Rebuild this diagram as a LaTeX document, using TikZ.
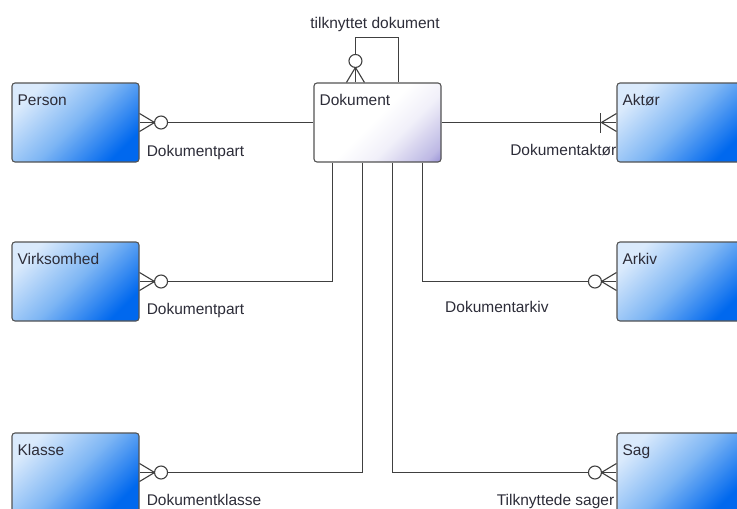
\documentclass[tikz,border=0pt]{standalone}
\usepackage{fontspec}
\setmainfont{Liberation Sans}
\usetikzlibrary{shapes,arrows,calc,positioning,backgrounds}
\definecolor{entlight}{RGB}{218,234,252}
\definecolor{entmid}{RGB}{126,182,244}
\definecolor{entdark}{RGB}{0,104,238}
\definecolor{dokpurple}{RGB}{110,100,196}
\definecolor{linegray}{RGB}{64,64,64}
\definecolor{txtgray}{RGB}{44,44,56}
\pgfdeclareverticalshading{dokshade}{100bp}{color(0bp)=(dokpurple);
  color(8bp)=(dokpurple); color(20bp)=(white!55!dokpurple);
  color(38bp)=(white!90!dokpurple); color(52bp)=(white); color(100bp)=(white)}
\begin{document}
\begin{tikzpicture}[x=1pt, y=-1pt,
    font=\fontsize{15.5}{18}\selectfont, text=txtgray,
    entity/.style={draw=linegray!90, line width=1.1pt, rounded corners=3pt,
      minimum width=127pt, minimum height=79pt, inner sep=0pt,
      top color=entlight, bottom color=entdark, middle color=entmid, shading angle=45,
      label={[anchor=base west, inner sep=0pt, xshift=6pt, yshift=-23pt]north west:#1}},
    dokbox/.style={entity=#1, shading=dokshade, shading angle=45},
    rel/.style={draw=linegray, line width=1.1pt},
    rellabel/.style={inner sep=0pt},
    zeromany/.pic={
      \draw[rel] (0,-9) -- (15,0) -- (0,9);
      \draw[rel, fill=white] (21.5,0) circle[radius=6.5pt];
    },
    onemany/.pic={
      \draw[rel] (0,-9) -- (15,0) -- (0,9);
      \draw[rel] (16,-10) -- (16,10);
    }]
  \useasboundingbox (0,0) rectangle (737,509);
  \clip (0,0) rectangle (737,509);

  \node[dokbox=Dokument] (dok) at (377.5,122.5) {};
  \node[entity=Person] (person) at (75.5,122.5) {};
  \node[entity=Virksomhed] (virk) at (75.5,281.5) {};
  \node[entity=Klasse] (klasse) at (75.5,472.5) {};
  \node[entity=Aktør] (aktor) at (680.5,122.5) {};
  \node[entity=Arkiv] (arkiv) at (680.5,281.5) {};
  \node[entity=Sag] (sag) at (680.5,472.5) {};

  \draw[rel] (person) -- (dok);
  \draw[rel] (dok) -- (aktor);
  \draw[rel] (virk.east) -| ($(dok.south west)+(19,0)$);
  \draw[rel] (klasse.east) -| ($(dok.south west)+(49,0)$);
  \draw[rel] (sag.west) -| ($(dok.south west)+(79,0)$);
  \draw[rel] (arkiv.west) -| ($(dok.south west)+(109,0)$);
  \draw[rel] ($(dok.north west)+(42,0)$) |- ($(dok.north west)+(85,-45)$)
    -- ($(dok.north west)+(85,0)$);

  \pic at (person.east) {zeromany};
  \pic at (virk.east) {zeromany};
  \pic at (klasse.east) {zeromany};
  \pic[rotate=180] at (aktor.west) {onemany};
  \pic[rotate=180] at (arkiv.west) {zeromany};
  \pic[rotate=180] at (sag.west) {zeromany};
  \pic[rotate=90] at ($(dok.north west)+(42,0)$) {zeromany};

  \node[rellabel, anchor=base] (lbself) at (375,28) {tilknyttet dokument};
  \node[rellabel, anchor=base west] (lbperson) at ($(person.east)+(7,33.5)$) {Dokumentpart};
  \node[rellabel, anchor=base west] (lbvirk) at ($(virk.east)+(7,32.5)$) {Dokumentpart};
  \node[rellabel, anchor=base west] (lbklasse) at ($(klasse.east)+(7,32.5)$) {Dokumentklasse};
  \node[rellabel, anchor=base east] (lbaktor) at ($(aktor.west)+(0,32.5)$) {Dokumentaktør};
  \node[rellabel, anchor=base west] (lbarkiv) at (445,312.5) {Dokumentarkiv};
  \node[rellabel, anchor=base east] (lbsag) at ($(sag.west)+(-2,32.5)$) {Tilknyttede sager};
\end{tikzpicture}
\end{document}
